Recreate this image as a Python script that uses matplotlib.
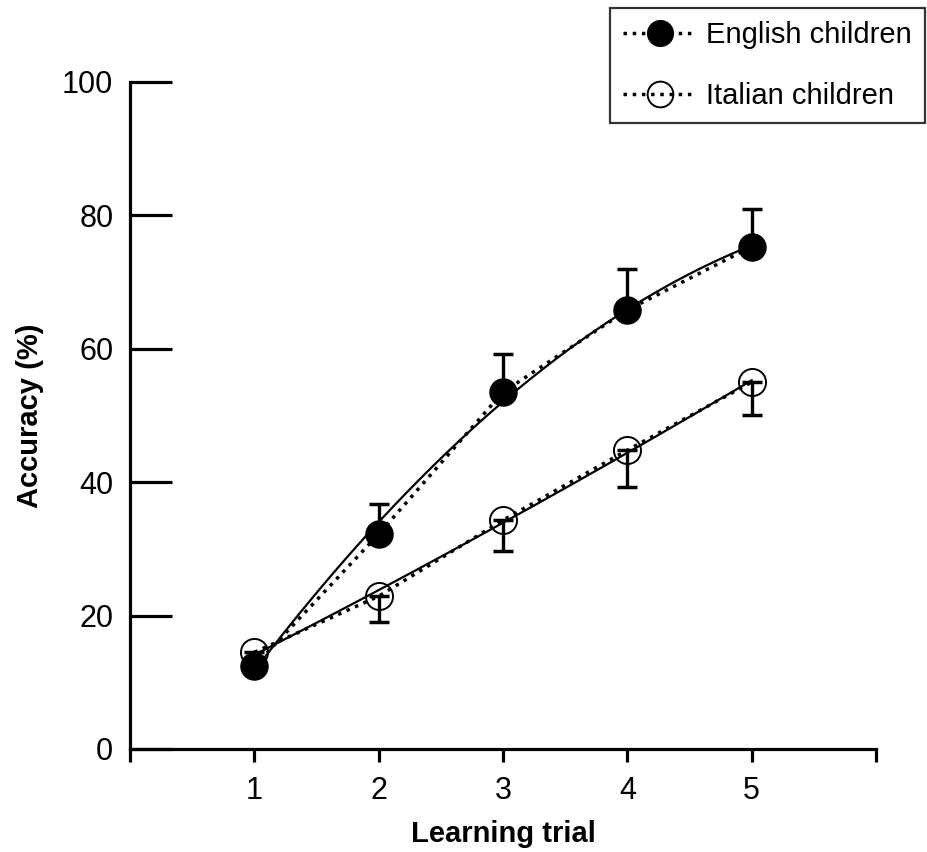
import numpy as np
import matplotlib.pyplot as plt

plt.rcParams["font.family"] = ["Liberation Sans", "DejaVu Sans"]

trials = [1, 2, 3, 4, 5]
english = [12.4, 32.2, 53.5, 65.8, 75.3]
english_err = [0.8, 4.6, 5.7, 6.1, 5.7]
italian = [14.5, 22.9, 34.3, 44.8, 55.0]
italian_err = [0.8, 3.8, 4.6, 5.5, 4.9]

fig = plt.figure(figsize=(9.27, 8.52), dpi=100)
ax = fig.add_axes([0.1402, 0.1209, 0.8048, 0.7829])

# quadratic fits (solid lines)
xs = np.linspace(1, 5, 200)
for vals in (english, italian):
    coef = np.polyfit(trials, vals, 2)
    ax.plot(xs, np.polyval(coef, xs), color="black", lw=1.6, zorder=2)

# error bars: English up, Italian down
ax.errorbar(trials, english, yerr=[np.zeros(5), english_err], fmt="none",
            ecolor="black", elinewidth=2.4, capsize=7, capthick=2.5, zorder=3)
ax.errorbar(trials, italian, yerr=[italian_err, np.zeros(5)], fmt="none",
            ecolor="black", elinewidth=2.4, capsize=7, capthick=2.5, zorder=3)

ax.plot(trials, english, ls=":", lw=2.5, color="black", marker="o",
        markersize=19.5, markerfacecolor="black", markeredgecolor="black",
        label="English children", zorder=4)
ax.plot(trials, italian, ls=":", lw=2.5, color="black", marker="o",
        markersize=19.5, markerfacecolor="none", markeredgecolor="black",
        markeredgewidth=1.4, label="Italian children", zorder=4)

ax.set_xlim(0, 6)
ax.set_ylim(0, 100)
ax.set_xticks([0, 1, 2, 3, 4, 5, 6])
ax.set_xticklabels(["", "1", "2", "3", "4", "5", ""])
ax.set_yticks([0, 20, 40, 60, 80, 100])

for s in ["top", "right"]:
    ax.spines[s].set_visible(False)
for s in ["left", "bottom"]:
    ax.spines[s].set_linewidth(2.3)

ax.tick_params(axis="y", direction="in", length=30, width=2.3, pad=12, labelsize=22)
ax.tick_params(axis="x", direction="out", length=9.5, width=2.3, pad=10, labelsize=22)

ax.set_xlabel("Learning trial", fontsize=21, fontweight="bold", labelpad=10)
ax.set_ylabel("Accuracy (%)", fontsize=21, fontweight="bold")
ax.yaxis.set_label_coords(-0.115, 0.5)

leg = ax.legend(loc="upper right", bbox_to_anchor=(0.998, 0.991),
                bbox_transform=fig.transFigure, borderaxespad=0,
                fontsize=21, frameon=True, fancybox=False, edgecolor="black",
                handlelength=2.5, handletextpad=0.35, borderpad=0.45,
                labelspacing=1.15, markerscale=0.95)
leg.get_frame().set_linewidth(1.6)

fig.savefig("out.png", dpi=100)
